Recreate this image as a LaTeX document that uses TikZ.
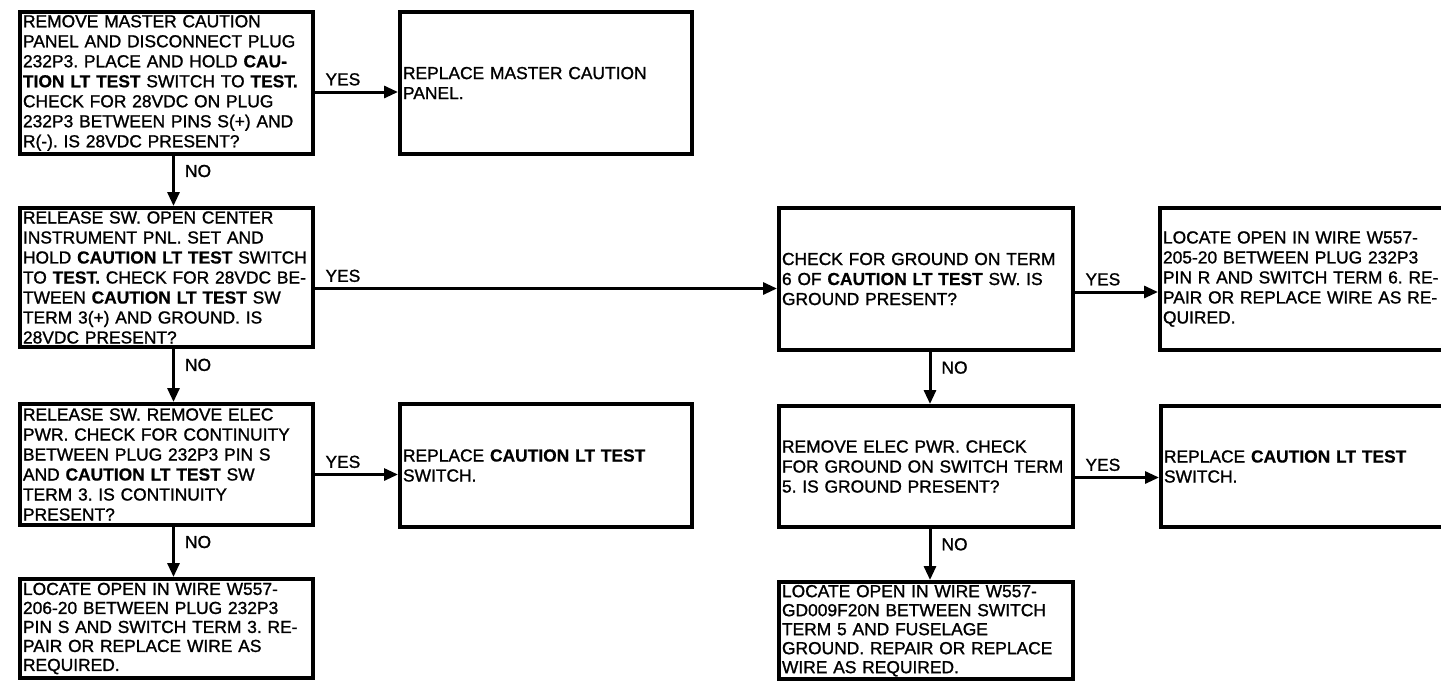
\documentclass[tikz,border=0pt]{standalone}
\usepackage{fontspec}
\setmainfont{Liberation Sans}[UprightFeatures={FakeBold=1.2}, BoldFeatures={FakeBold=0.6}]
\usepackage{tikz}
\usetikzlibrary{arrows.meta}
\newcommand{\hl}[1]{\textbf{#1}}
\frenchspacing

\begin{document}
\begin{tikzpicture}[x=0.5pt, y=-0.5pt,
    box/.style={draw, line width=2pt, anchor=north west, inner xsep=1.5pt, inner ysep=0pt,
      text width=143.5pt, align=left, font=\fontsize{8.7}{10}\selectfont},
    tight/.style={inner ysep=1.5pt, font=\fontsize{8.7}{9.5}\selectfont},
    flow/.style={line width=1.5pt, -{Triangle[length=7pt, width=6pt]}},
    yes/.style={pos=0, anchor=south west, xshift=3.5pt, yshift=1.5pt, inner sep=1pt, font=\fontsize{8.7}{10}\selectfont},
    no/.style={pos=0.3, anchor=west, xshift=4pt, inner sep=1pt, font=\fontsize{8.7}{10}\selectfont},
  ]
  \path[use as bounding box] (0,0) rectangle (1441,682);
  \clip (0,0) rectangle (1441,682);

  % left column
  \node[box, minimum height=71pt] (vmaster) at (18,10) {REMOVE MASTER CAUTION\\
    PANEL AND DISCONNECT PLUG\\
    232P3. PLACE AND HOLD \hl{CAU-}\\
    \hl{TION LT TEST} SWITCH TO \hl{TEST.}\\
    CHECK FOR 28VDC ON PLUG\\
    232P3 BETWEEN PINS S(+) AND\\
    R(-). IS 28VDC PRESENT?};
  \node[box, text width=143pt, minimum height=71pt] (rmaster) at (398,10) {REPLACE MASTER CAUTION\\
    PANEL.};
  \node[box, minimum height=69.5pt] (vswitch) at (18,206) {RELEASE SW. OPEN CENTER\\
    INSTRUMENT PNL. SET AND\\
    HOLD \hl{CAUTION LT TEST} SWITCH\\
    TO \hl{TEST.} CHECK FOR 28VDC BE-\\
    TWEEN \hl{CAUTION LT TEST} SW\\
    TERM 3(+) AND GROUND. IS\\
    28VDC PRESENT?};
  \node[box, minimum height=60.5pt] (cont) at (18,402) {RELEASE SW. REMOVE ELEC\\
    PWR. CHECK FOR CONTINUITY\\
    BETWEEN PLUG 232P3 PIN S\\
    AND \hl{CAUTION LT TEST} SW\\
    TERM 3. IS CONTINUITY\\
    PRESENT?};
  \node[box, text width=143pt, minimum height=61.5pt] (rswitch) at (398,402) {REPLACE \hl{CAUTION LT TEST}\\
    SWITCH.};
  \node[box, tight, minimum height=49.5pt] (wireS) at (18,577) {LOCATE OPEN IN WIRE W557-\\
    206-20 BETWEEN PLUG 232P3\\
    PIN S AND SWITCH TERM 3. RE-\\
    PAIR OR REPLACE WIRE AS\\
    REQUIRED.};

  % right column
  \node[box, text width=144pt, minimum height=71pt] (gnd6) at (777,206) {CHECK FOR GROUND ON TERM\\
    6 OF \hl{CAUTION LT TEST} SW. IS\\
    GROUND PRESENT?};
  \node[box, text width=153pt, minimum height=71pt] (wireR) at (1158,206) {LOCATE OPEN IN WIRE W557-\\
    205-20 BETWEEN PLUG 232P3\\
    PIN R AND SWITCH TERM 6. RE-\\
    PAIR OR REPLACE WIRE AS RE-\\
    QUIRED.};
  \node[box, text width=144pt, minimum height=60.5pt] (gnd5) at (777,404) {REMOVE ELEC PWR. CHECK\\
    FOR GROUND ON SWITCH TERM\\
    5. IS GROUND PRESENT?};
  \node[box, text width=153pt, minimum height=60.5pt] (rswitch2) at (1159,404) {REPLACE \hl{CAUTION LT TEST}\\
    SWITCH.};
  \node[box, tight, text width=144pt, minimum height=47pt] (wireG) at (777,580) {LOCATE OPEN IN WIRE W557-\\
    GD009F20N BETWEEN SWITCH\\
    TERM 5 AND FUSELAGE\\
    GROUND. REPAIR OR REPLACE\\
    WIRE AS REQUIRED.};

  % YES branches
  \draw[flow] ([yshift=-4.5pt]vmaster.east) -- node[yes] {YES} ([yshift=-4.5pt]vmaster.east -| rmaster.west);
  \draw[flow] ([yshift=-5.5pt]vswitch.east) -- node[yes] {YES} ([yshift=-5.5pt]vswitch.east -| gnd6.west);
  \draw[flow] ([yshift=-5pt]cont.east) -- node[yes] {YES} ([yshift=-5pt]cont.east -| rswitch.west);
  \draw[flow] ([yshift=-6.5pt]gnd6.east) -- node[yes] {YES} ([yshift=-6.5pt]gnd6.east -| wireR.west);
  \draw[flow] ([yshift=-5.5pt]gnd5.east) -- node[yes] {YES} ([yshift=-5.5pt]gnd5.east -| rswitch2.west);

  % NO branches
  \draw[flow] ([xshift=3.5pt]vmaster.south) -- node[no] {NO} ([xshift=3.5pt]vswitch.north);
  \draw[flow] ([xshift=3.5pt]vswitch.south) -- node[no] {NO} ([xshift=3.5pt]cont.north);
  \draw[flow] ([xshift=3.5pt]cont.south) -- node[no] {NO} ([xshift=3.5pt]wireS.north);
  \draw[flow] ([xshift=2pt]gnd6.south) -- node[no] {NO} ([xshift=2pt]gnd5.north);
  \draw[flow] ([xshift=2pt]gnd5.south) -- node[no] {NO} ([xshift=2pt]wireG.north);
\end{tikzpicture}
\end{document}
